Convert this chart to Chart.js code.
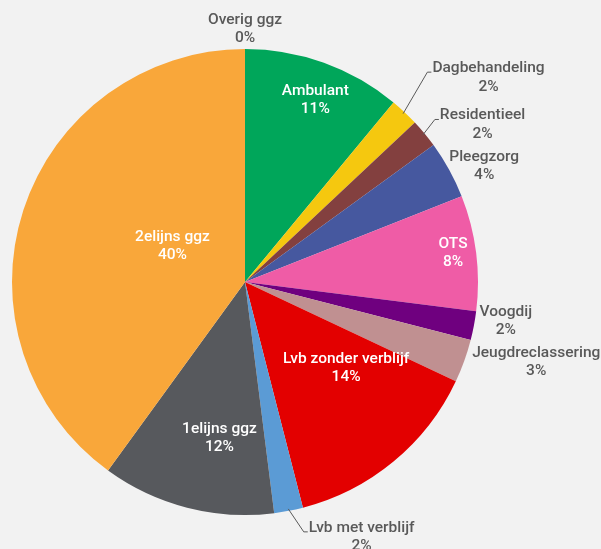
<!DOCTYPE html>
<html>
<head>
<meta charset="utf-8">
<script src="https://cdn.jsdelivr.net/npm/chart.js@4"></script>
<style>
    html, body { margin: 0; padding: 0; background: #f2f2f2; }
    canvas { display: block; }
</style>
</head>
<body>
<canvas id="zorgChart" width="601" height="549"></canvas>
<script>
const categories = ['Overig ggz', 'Ambulant', 'Dagbehandeling', 'Residentieel', 'Pleegzorg', 'OTS',
    'Voogdij', 'Jeugdreclassering', 'Lvb zonder verblijf', 'Lvb met verblijf', '1elijns ggz', '2elijns ggz'];
const shares = [0, 11, 2, 2, 4, 8, 2, 3, 14, 2, 12, 40];
const sliceColors = ['#8e8e8e', '#00a65a', '#f5c80f', '#83403f', '#46589f', '#ef5ca6',
    '#6f007f', '#c09091', '#e30000', '#5b9bd5', '#57595d', '#f9a73a'];

// where each label sits: radius fraction along the slice middle, then a nudge
const labelSpots = [
    { inside: false, rf: 1.086, dx: 0, dy: 0 },
    { inside: true, rf: 0.84, dx: 4, dy: 2 },
    { inside: false, rf: 1.0, dx: 84, dy: -35, leader: true },
    { inside: false, rf: 1.0, dx: 58, dy: -9, leader: true },
    { inside: false, rf: 1.0, dx: 35, dy: -4 },
    { inside: true, rf: 0.9, dx: 0, dy: -3 },
    { inside: false, rf: 1.0, dx: 32, dy: -5 },
    { inside: false, rf: 1.0, dx: 72, dy: 1 },
    { inside: true, rf: 0.6, dx: 12, dy: -22 },
    { inside: false, rf: 1.0, dx: 73, dy: 26, leader: true },
    { inside: true, rf: 0.7, dx: 15, dy: -2 },
    { inside: true, rf: 0.35, dx: 5, dy: -11 }
];

const sliceLabels = {
    id: 'sliceLabels',
    afterDatasetsDraw(chart) {
        const ctx = chart.ctx;
        const arcs = chart.getDatasetMeta(0).data;
        ctx.save();
        ctx.font = '500 15.5px Roboto, "Noto Sans", sans-serif';
        ctx.textAlign = 'center';
        ctx.textBaseline = 'middle';
        arcs.forEach((arc, i) => {
            const spot = labelSpots[i];
            const p = arc.getProps(['x', 'y', 'startAngle', 'endAngle', 'outerRadius'], true);
            const mid = (p.startAngle + p.endAngle) / 2;
            const cx = p.x + Math.cos(mid) * p.outerRadius * spot.rf + spot.dx;
            const cy = p.y + Math.sin(mid) * p.outerRadius * spot.rf + spot.dy;
            const line1 = categories[i];
            const line2 = shares[i] + '%';
            const y1 = cy - 9;
            const y2 = cy + 9.5;

            if (spot.leader) {
                const left = cx - ctx.measureText(line1).width / 2;
                const ex = p.x + Math.cos(mid) * (p.outerRadius - 2);
                const ey = p.y + Math.sin(mid) * (p.outerRadius - 2);
                ctx.strokeStyle = '#595959';
                ctx.lineWidth = 1;
                ctx.beginPath();
                ctx.moveTo(ex, ey);
                ctx.lineTo(left - 5, y1 + 4);
                ctx.lineTo(left - 1, y1 + 4);
                ctx.stroke();
            }

            ctx.fillStyle = spot.inside ? '#ffffff' : '#595959';
            ctx.fillText(line1, cx, y1);
            ctx.fillText(line2, cx, y2);
        });
        ctx.restore();
    }
};

new Chart(document.getElementById('zorgChart'), {
    type: 'pie',
    data: {
        labels: categories,
        datasets: [{
            data: shares,
            backgroundColor: sliceColors,
            borderWidth: 0
        }]
    },
    options: {
        responsive: false,
        animation: false,
        layout: {
            padding: { left: 12, right: 123, top: 49, bottom: 34 }
        },
        plugins: {
            legend: { display: false },
            tooltip: { enabled: false }
        }
    },
    plugins: [sliceLabels]
});
</script>
</body>
</html>
